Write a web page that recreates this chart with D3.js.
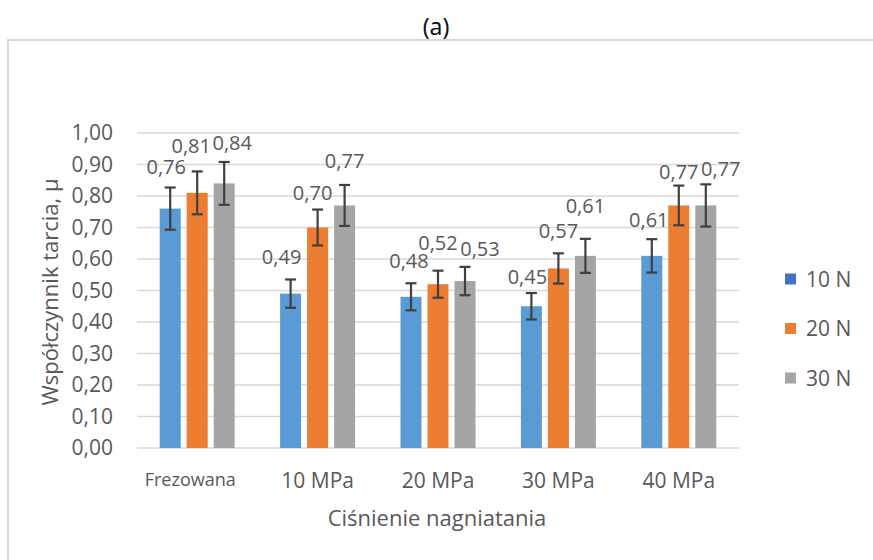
<!DOCTYPE html>
<html>
<head>
<meta charset="utf-8">
<script src="https://cdn.jsdelivr.net/npm/d3@7"></script>
<style>
  html, body { margin: 0; padding: 0; background: #fff; }
  svg { display: block; }
</style>
</head>
<body>
<svg id="chart" width="873" height="560"></svg>
<script>
// Friction coefficient vs. burnishing pressure, three burnishing forces
const categories = ["Frezowana", "10 MPa", "20 MPa", "30 MPa", "40 MPa"];
const seriesNames = ["10 N", "20 N", "30 N"];
const values10N = [0.76, 0.49, 0.48, 0.45, 0.61];
const values20N = [0.81, 0.70, 0.52, 0.57, 0.77];
const values30N = [0.84, 0.77, 0.53, 0.61, 0.77];
const errors10N = [0.067, 0.045, 0.043, 0.042, 0.053];
const errors20N = [0.068, 0.057, 0.043, 0.048, 0.063];
const errors30N = [0.068, 0.065, 0.045, 0.054, 0.067];
const yTicks = [0, 0.1, 0.2, 0.3, 0.4, 0.5, 0.6, 0.7, 0.8, 0.9, 1.0];

// Hand-placed data labels: [dx, dy] relative to bar centre / error-bar top
const labelShift = [
  [[-4, -21], [-9, -23], [-2, -23], [-4, -17], [-3, -20]],
  [[-6, -26], [-5, -17], [0, -28], [0, -23], [0, -14]],
  [[8, -19], [0, -24], [15, -18], [0, -33], [15, -16]]
];

const seriesValues = [values10N, values20N, values30N];
const seriesErrors = [errors10N, errors20N, errors30N];
const barColors = ["#5B9BD5", "#ED7D31", "#A5A5A5"];
const legendColors = ["#4472C4", "#ED7D31", "#A5A5A5"];
const textColor = "#595959";
const font = "'Open Sans', sans-serif";

const rows = categories.map((c, i) => ({
  category: c,
  points: seriesNames.map((s, j) => ({
    series: s, j, i,
    value: seriesValues[j][i],
    err: seriesErrors[j][i]
  }))
}));

const svg = d3.select("#chart");
const plot = { left: 137, right: 739, top: 133, bottom: 448 };

const fmt = v => d3.format(".2f")(v).replace(".", ",");

// Title above the chart frame
svg.append("text")
  .attr("x", 436).attr("y", 35)
  .attr("text-anchor", "middle")
  .attr("font-family", "'Noto Sans', sans-serif")
  .attr("font-size", 23)
  .attr("fill", "#111")
  .text("(a)");

// Chart frame (top and left edges)
svg.append("path")
  .attr("d", "M8,560 L8,40 L873,40")
  .attr("fill", "none")
  .attr("stroke", "#d9d9d9")
  .attr("stroke-width", 2);

const x0 = d3.scaleBand()
  .domain(categories)
  .range([plot.left, plot.right])
  .paddingInner(0.377)
  .paddingOuter(0.1885);

const x1 = d3.scaleBand()
  .domain(seriesNames)
  .range([0, x0.bandwidth()])
  .paddingInner(0.222)
  .paddingOuter(0);

const y = d3.scaleLinear().domain([0, 1]).range([plot.bottom, plot.top]);

// Gridlines
svg.append("g")
  .selectAll("line")
  .data(yTicks)
  .join("line")
  .attr("x1", plot.left).attr("x2", plot.right)
  .attr("y1", d => y(d)).attr("y2", d => y(d))
  .attr("stroke", "#d9d9d9")
  .attr("stroke-width", 1.5);

// Y axis labels
const yAxis = svg.append("g")
  .attr("transform", `translate(${plot.left},0)`)
  .call(d3.axisLeft(y).tickValues(yTicks).tickSize(0).tickPadding(24).tickFormat(fmt));
yAxis.select(".domain").remove();
yAxis.selectAll("text")
  .attr("font-family", font)
  .attr("font-size", 21)
  .attr("fill", textColor);

// X axis labels
const xAxis = svg.append("g")
  .attr("transform", `translate(0,${plot.bottom})`)
  .call(d3.axisBottom(x0).tickSize(0).tickPadding(25));
xAxis.select(".domain").remove();
xAxis.selectAll("text")
  .attr("font-family", font)
  .attr("font-size", d => d === "Frezowana" ? 18 : 21)
  .attr("dx", d => d === "Frezowana" ? -7 : 0)
  .attr("fill", textColor);

// Bars
const groups = svg.append("g")
  .selectAll("g")
  .data(rows)
  .join("g")
  .attr("transform", d => `translate(${x0(d.category)},0)`);

groups.selectAll("rect")
  .data(d => d.points)
  .join("rect")
  .attr("x", d => x1(d.series))
  .attr("width", x1.bandwidth())
  .attr("y", d => y(d.value))
  .attr("height", d => y(0) - y(d.value))
  .attr("fill", d => barColors[d.j]);

// Error bars
const cap = 5.5;
const eb = groups.selectAll("g.err")
  .data(d => d.points)
  .join("g")
  .attr("class", "err")
  .attr("stroke", "#404040")
  .attr("stroke-width", 2.2);
eb.append("line")
  .attr("x1", d => x1(d.series) + x1.bandwidth() / 2)
  .attr("x2", d => x1(d.series) + x1.bandwidth() / 2)
  .attr("y1", d => y(d.value + d.err))
  .attr("y2", d => y(d.value - d.err));
eb.append("line")
  .attr("x1", d => x1(d.series) + x1.bandwidth() / 2 - cap)
  .attr("x2", d => x1(d.series) + x1.bandwidth() / 2 + cap)
  .attr("y1", d => y(d.value + d.err))
  .attr("y2", d => y(d.value + d.err));
eb.append("line")
  .attr("x1", d => x1(d.series) + x1.bandwidth() / 2 - cap)
  .attr("x2", d => x1(d.series) + x1.bandwidth() / 2 + cap)
  .attr("y1", d => y(d.value - d.err))
  .attr("y2", d => y(d.value - d.err));

// Data labels
groups.selectAll("text.val")
  .data(d => d.points)
  .join("text")
  .attr("class", "val")
  .attr("x", d => x1(d.series) + x1.bandwidth() / 2 + labelShift[d.j][d.i][0])
  .attr("y", d => y(d.value + d.err) + labelShift[d.j][d.i][1] + 7.5)
  .attr("text-anchor", "middle")
  .attr("font-family", font)
  .attr("font-size", 20)
  .attr("fill", textColor)
  .text(d => fmt(d.value));

// Axis titles
svg.append("text")
  .attr("transform", "translate(58,292) rotate(-90)")
  .attr("text-anchor", "middle")
  .attr("font-family", font)
  .attr("font-size", 22)
  .attr("fill", textColor)
  .text("Współczynnik tarcia, μ");

svg.append("text")
  .attr("x", 437).attr("y", 526)
  .attr("text-anchor", "middle")
  .attr("font-family", font)
  .attr("font-size", 22)
  .attr("fill", textColor)
  .text("Ciśnienie nagniatania");

// Legend
const legend = svg.append("g")
  .selectAll("g")
  .data(seriesNames)
  .join("g")
  .attr("transform", (d, i) => `translate(785,${279 + i * 49.5})`);
legend.append("rect")
  .attr("x", 0).attr("y", -5.5)
  .attr("width", 11).attr("height", 11)
  .attr("fill", (d, i) => legendColors[i]);
legend.append("text")
  .attr("x", 21).attr("y", 7.5)
  .attr("font-family", font)
  .attr("font-size", 21)
  .attr("fill", textColor)
  .text(d => d);
</script>
</body>
</html>
